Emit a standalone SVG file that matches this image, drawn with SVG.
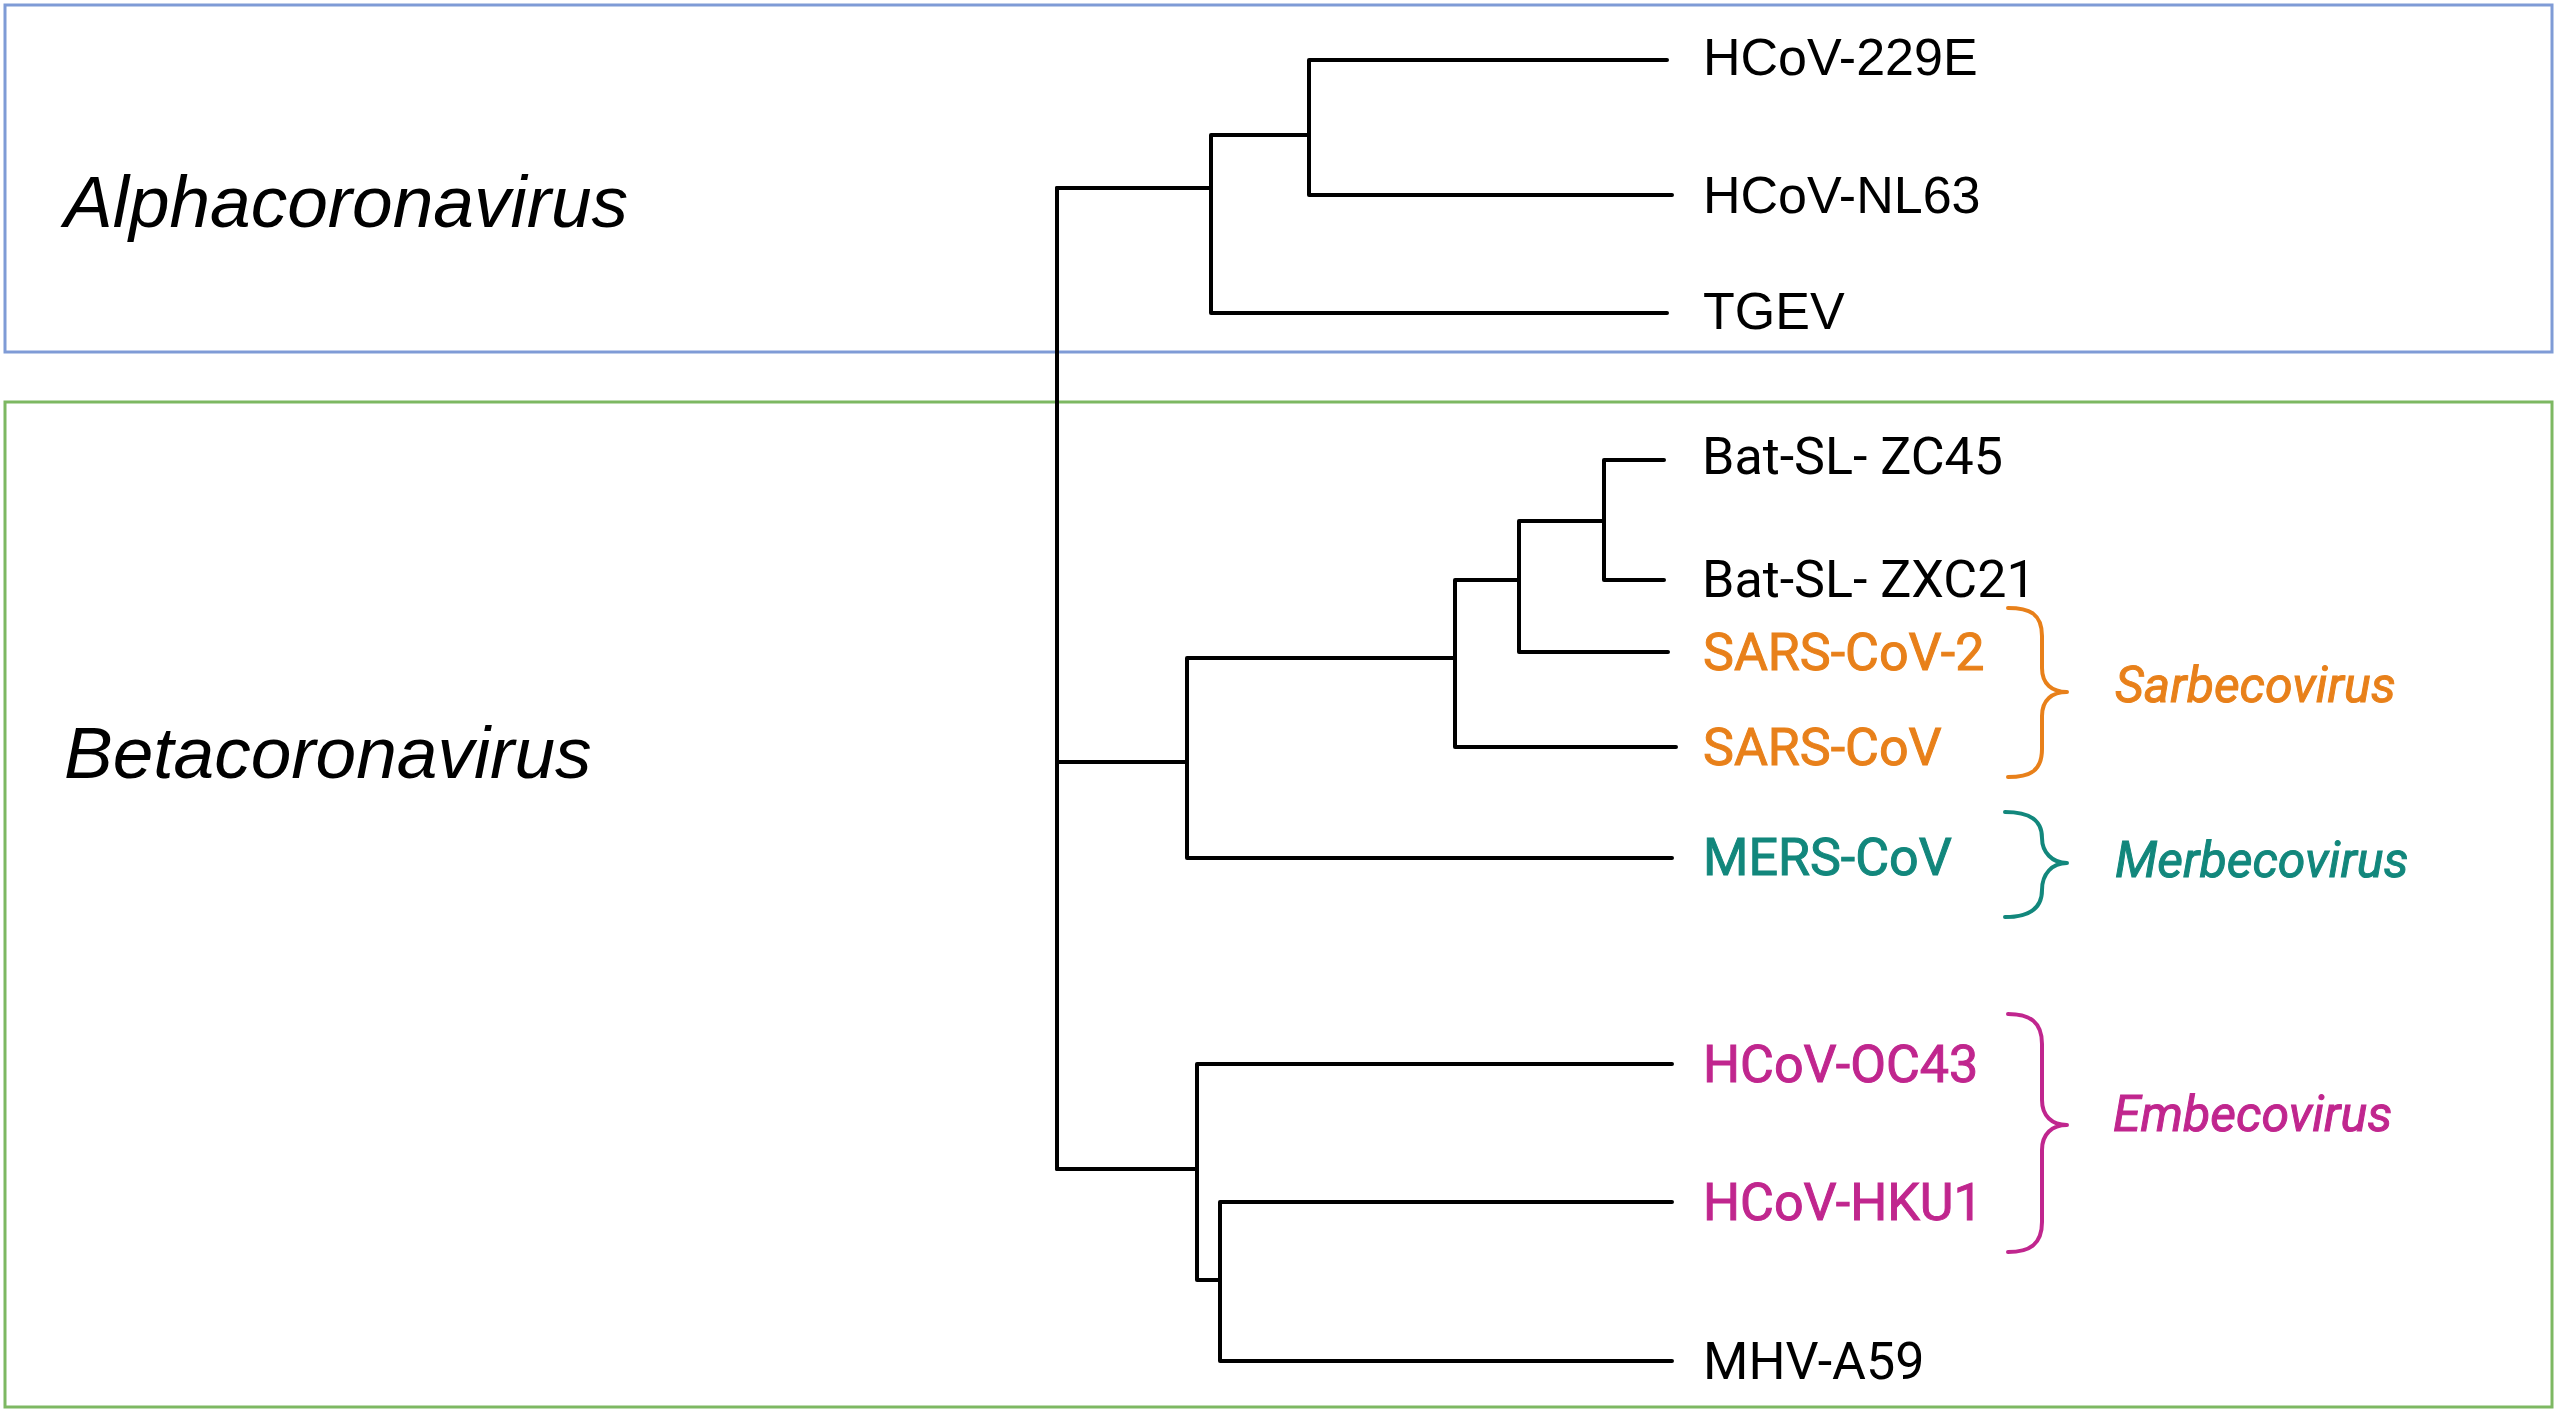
<svg xmlns="http://www.w3.org/2000/svg" width="2559" height="1412" viewBox="0 0 2559 1412">
<style>
.tree{fill:none;stroke:#000;stroke-width:4;stroke-linecap:round;stroke-linejoin:round}
.genus{font-family:"Liberation Sans",Arial,sans-serif;font-style:italic;font-size:73px;fill:#000}
.la{font-family:"Liberation Sans",Arial,sans-serif;font-size:52px;fill:#000}
.lb{font-family:Roboto,"Liberation Sans",sans-serif;font-size:52px;fill:#000}
.sub{font-family:Roboto,"Liberation Sans",sans-serif;font-style:italic;font-size:50px}
.brace{fill:none;stroke-width:4;stroke-linecap:round;stroke-linejoin:round}
.or{fill:#E8801A;stroke:#E8801A}
.te{fill:#12877C;stroke:#12877C}
.ma{fill:#C0268E;stroke:#C0268E}
</style>
<rect width="2559" height="1412" fill="#fff"/>
<g id="alpha-box"><rect x="5" y="5" width="2547" height="347" fill="none" stroke="#7F9BD6" stroke-width="3"/></g>
<g id="beta-box"><rect x="5" y="402" width="2547" height="1005" fill="none" stroke="#7DB862" stroke-width="3"/></g>
<g id="connectors">
<path class="tree" d="M1057,188 V1169"/>
<path class="tree" d="M1057,188 H1211 M1211,135 V313 M1211,135 H1309 M1211,313 H1667 M1309,60 V195 M1309,60 H1667 M1309,195 H1672"/>
<path class="tree" d="M1057,762 H1187 M1187,658 V858 M1187,658 H1455 M1187,858 H1672 M1455,580 V747 M1455,747 H1676 M1455,580 H1519 M1519,521 V652 M1519,652 H1668 M1519,521 H1604 M1604,460 V580 M1604,460 H1664 M1604,580 H1664"/>
<path class="tree" d="M1057,1169 H1197 M1197,1064 V1280 M1197,1064 H1672 M1197,1280 H1220 M1220,1202 V1361 M1220,1202 H1672 M1220,1361 H1672"/>
</g>
<g id="genus-alpha"><text class="genus" x="64" y="227">Alphacoronavirus</text></g>
<g id="genus-beta"><text class="genus" x="64" y="778">Betacoronavirus</text></g>
<g id="leaf-229E"><text class="la" x="1703" y="75">HCoV-229E</text></g>
<g id="leaf-NL63"><text class="la" x="1703" y="213">HCoV-NL63</text></g>
<g id="leaf-TGEV"><text class="la" x="1703" y="329">TGEV</text></g>
<g id="leaf-ZC45"><text class="lb" x="1702" y="474">Bat-SL- ZC45</text></g>
<g id="leaf-ZXC21"><text class="lb" x="1702" y="597">Bat-SL- ZXC21</text></g>
<g id="leaf-SARS2"><text class="lb or" x="1703" y="670" stroke="none">SARS-CoV-2</text></g>
<g id="leaf-SARS"><text class="lb or" x="1703" y="765" stroke="none">SARS-CoV</text></g>
<g id="leaf-MERS"><text class="lb te" x="1703" y="875" stroke="none">MERS-CoV</text></g>
<g id="leaf-OC43"><text class="lb ma" x="1703" y="1082" stroke="none">HCoV-OC43</text></g>
<g id="leaf-HKU1"><text class="lb ma" x="1703" y="1220" stroke="none">HCoV-HKU1</text></g>
<g id="leaf-MHV"><text class="lb" x="1703" y="1379">MHV-A59</text></g>
<g id="sarbecovirus">
<path class="brace or" fill="none" style="fill:none" d="M2008,608 C2030,608 2042,614 2042,636 L2042,668 C2042,684 2052,692 2067,692 C2052,692 2042,700 2042,716 L2042,749 C2042,771 2030,777 2008,777"/>
<text class="sub or" x="2115" y="702" stroke="none">Sarbecovirus</text>
</g>
<g id="merbecovirus">
<path class="brace te" style="fill:none" d="M2005,812 C2030,812 2042,820 2042,838 C2042,852 2052,863 2067,863 C2052,863 2042,874 2042,890 C2042,908 2030,917 2005,917"/>
<text class="sub te" x="2115" y="877" stroke="none">Merbecovirus</text>
</g>
<g id="embecovirus">
<path class="brace ma" style="fill:none" d="M2008,1014 C2030,1014 2042,1022 2042,1044 L2042,1100 C2042,1116 2052,1125 2067,1125 C2052,1125 2042,1134 2042,1150 L2042,1222 C2042,1244 2030,1252 2008,1252"/>
<text class="sub ma" x="2113" y="1131" stroke="none">Embecovirus</text>
</g>
</svg>
